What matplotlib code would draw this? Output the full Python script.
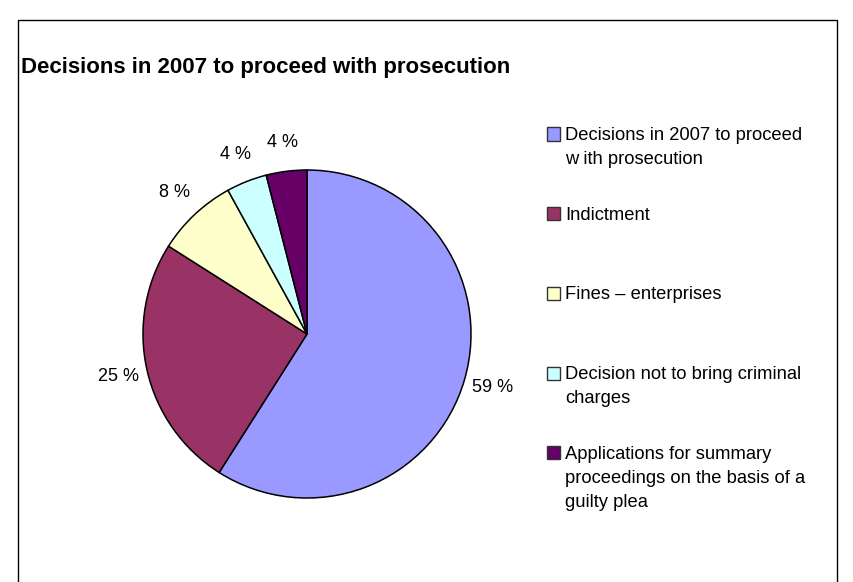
#!/usr/bin/env python3
"""Pie chart of prosecution decisions taken in 2007."""

import matplotlib

matplotlib.use("Agg")
import matplotlib.pyplot as plt
from matplotlib.patches import Rectangle

TITLE = "Decisions in 2007 to proceed with prosecution"
CATEGORIES = [
    "Decisions in 2007 to proceed\nw ith prosecution",
    "Indictment",
    "Fines \u2013 enterprises",
    "Decision not to bring criminal\ncharges",
    "Applications for summary\nproceedings on the basis of a\nguilty plea",
]
SHARES = [59, 25, 8, 4, 4]
COLORS = ["#9999FF", "#993366", "#FFFFCC", "#CCFFFF", "#660066"]

W, H = 854, 582


def fx(px):
    return px / W


def fy(py):
    return 1 - py / H


def main():
    plt.rcParams["font.family"] = ["Liberation Sans", "DejaVu Sans"]
    fig = plt.figure(figsize=(W / 100, H / 100), dpi=100)
    fig.patch.set_facecolor("white")

    # outer chart frame (runs off the bottom edge)
    fig.add_artist(Rectangle((fx(18), -0.05), fx(837) - fx(18), fy(20) + 0.05,
                             transform=fig.transFigure, fill=False,
                             edgecolor="black", linewidth=1.0))

    fig.text(fx(21), fy(73), TITLE, fontsize=16, fontweight="bold",
             ha="left", va="baseline")

    # pie: centre (307, 334) px, radius 164 px
    cx, cy, r = 307, 334, 164
    ax = fig.add_axes([fx(cx - r), fy(cy + r), 2 * r / W, 2 * r / H])
    ax.set_axis_off()
    wedges, texts = ax.pie(
        SHARES,
        labels=[f"{v} %" for v in SHARES],
        colors=COLORS,
        startangle=90,
        counterclock=False,
        labeldistance=1.18,
        radius=1.0,
        wedgeprops=dict(edgecolor="black", linewidth=1.1),
        textprops=dict(fontsize=13),
    )
    for t in texts:
        t.set_ha("center")
        t.set_va("center")
    ax.set_xlim(-1, 1)
    ax.set_ylim(-1, 1)

    # legend drawn by hand so every entry starts on a fixed row
    row0, step = 134, 79.7
    for i, (label, color) in enumerate(zip(CATEGORIES, COLORS)):
        yc = row0 + i * step
        fig.add_artist(Rectangle((fx(547), fy(yc + 6.5)), 13 / W, 13 / H,
                                 transform=fig.transFigure, facecolor=color,
                                 edgecolor="#333333", linewidth=1.0))
        fig.text(fx(565), fy(yc - 7), label, fontsize=13.2, ha="left",
                 va="top", linespacing=1.55)

    fig.savefig("out.png", dpi=100, facecolor="white")
    plt.close(fig)


if __name__ == "__main__":
    main()
